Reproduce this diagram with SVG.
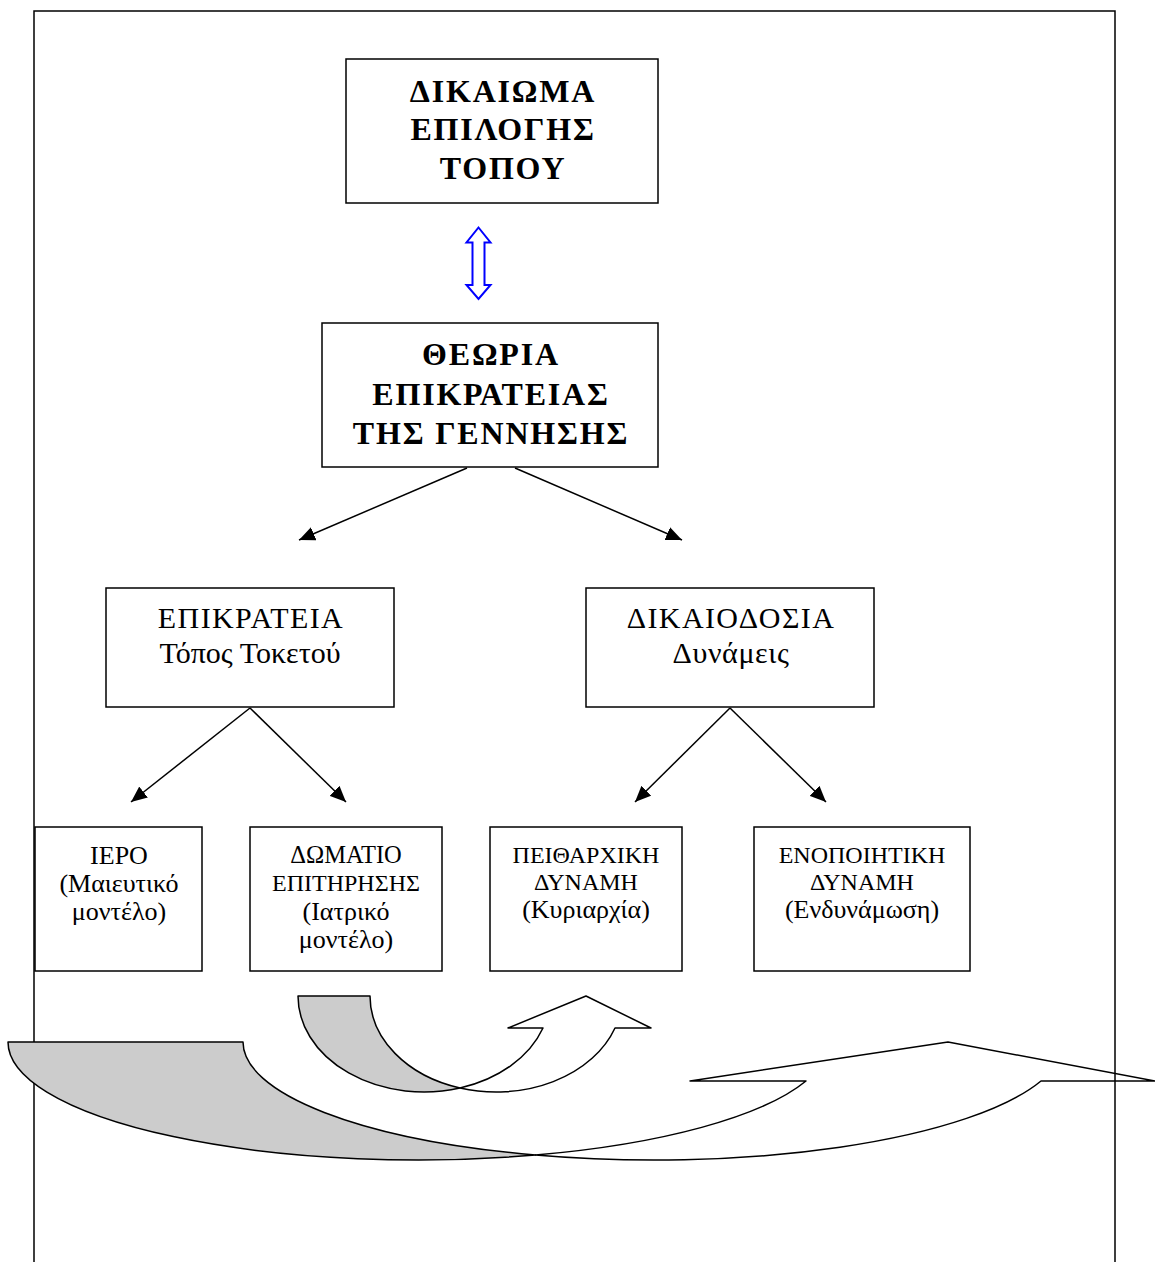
<svg xmlns="http://www.w3.org/2000/svg" width="1155" height="1262" viewBox="0 0 1155 1262">
<defs>
<style>
.box{fill:#fff;stroke:#000;stroke-width:1.5}
.t{font-family:"Liberation Serif","Times New Roman",serif;fill:#000;text-anchor:middle}
.b{font-weight:bold;font-size:32px;letter-spacing:1.8px}
.m{font-size:30px}
.mc{font-size:30px;letter-spacing:1.4px}
.ml{font-size:30px;letter-spacing:0.6px}
.s{font-size:24px}
.s2{font-size:26px}
.con{stroke:#000;stroke-width:1.5;fill:none;marker-end:url(#ah)}
.ribbon{stroke:#000;stroke-width:1.5;stroke-linejoin:round}
</style>
<marker id="ah" markerUnits="userSpaceOnUse" markerWidth="18" markerHeight="14" refX="16" refY="7" orient="auto">
<path d="M0,0 L16,7 L0,14 Z" fill="#000"/>
</marker>
</defs>
<rect width="1155" height="1262" fill="#fff"/>
<g id="frame">
<path d="M34,1262 L34,11 L1115,11 L1115,1262" fill="none" stroke="#000" stroke-width="1.5"/>
</g>
<g id="n-dikaioma">
<rect class="box" x="346" y="59" width="312" height="144"/>
<text class="t b" x="503" y="101.5">ΔΙΚΑΙΩΜΑ</text>
<text class="t b" x="503" y="140">ΕΠΙΛΟΓΗΣ</text>
<text class="t b" x="503" y="178.5">ΤΟΠΟΥ</text>
</g>
<g id="n-theoria">
<rect class="box" x="322" y="323" width="336" height="144"/>
<text class="t b" x="491" y="365">ΘΕΩΡΙΑ</text>
<text class="t b" x="491" y="404.5">ΕΠΙΚΡΑΤΕΙΑΣ</text>
<text class="t b" x="491" y="444">ΤΗΣ ΓΕΝΝΗΣΗΣ</text>
</g>
<g id="n-epikrateia">
<rect class="box" x="106" y="588" width="288" height="119"/>
<text class="t mc" x="251" y="628">ΕΠΙΚΡΑΤΕΙΑ</text>
<text class="t m" x="250" y="663">Τόπος Τοκετού</text>
</g>
<g id="n-dikaiodosia">
<rect class="box" x="586" y="588" width="288" height="119"/>
<text class="t mc" x="731" y="628">ΔΙΚΑΙΟΔΟΣΙΑ</text>
<text class="t ml" x="731" y="663">Δυνάμεις</text>
</g>
<g id="n-iero">
<rect class="box" x="35" y="827" width="167" height="144"/>
<text class="t s2" x="119" y="864">ΙΕΡΟ</text>
<text class="t s2" x="119" y="892">(Μαιευτικό</text>
<text class="t s2" x="119" y="920">μοντέλο)</text>
</g>
<g id="n-domatio">
<rect class="box" x="250" y="827" width="192" height="144"/>
<text class="t s" x="346" y="863" style="font-size:24.5px">ΔΩΜΑΤΙΟ</text>
<text class="t s" x="346" y="891">ΕΠΙΤΗΡΗΣΗΣ</text>
<text class="t s2" x="346" y="920">(Ιατρικό</text>
<text class="t s2" x="346" y="948">μοντέλο)</text>
</g>
<g id="n-peitharxiki">
<rect class="box" x="490" y="827" width="192" height="144"/>
<text class="t s" x="586" y="863">ΠΕΙΘΑΡΧΙΚΗ</text>
<text class="t s" x="586" y="890">ΔΥΝΑΜΗ</text>
<text class="t s2" x="586" y="918">(Κυριαρχία)</text>
</g>
<g id="n-enopoiitiki">
<rect class="box" x="754" y="827" width="216" height="144"/>
<text class="t s" x="862" y="863">ΕΝΟΠΟΙΗΤΙΚΗ</text>
<text class="t s" x="862" y="890">ΔΥΝΑΜΗ</text>
<text class="t s2" x="862" y="918">(Ενδυνάμωση)</text>
</g>
<g id="connectors">
<path d="M478.5,227.5 L490.5,242.5 L484.5,242.5 L484.5,285 L490.5,285 L478.5,299 L466.5,285 L472.5,285 L472.5,242.5 L466.5,242.5 Z" fill="#fff" stroke="#0000ff" stroke-width="2"/>
<line class="con" x1="467" y1="468" x2="299" y2="540"/>
<line class="con" x1="515" y1="468" x2="682" y2="540"/>
<line class="con" x1="250" y1="708" x2="131" y2="802"/>
<line class="con" x1="250" y1="708" x2="346" y2="802"/>
<line class="con" x1="730" y1="708" x2="635" y2="802"/>
<line class="con" x1="730" y1="708" x2="826" y2="802"/>
</g>
<g id="curved-arrow-small">
<path class="ribbon" fill="#cccccc" d="M298,996 L370,996 A126 96 0 0 0 460,1088 A126 96 0 0 1 298,996 Z"/>
<path class="ribbon" fill="none" d="M460,1088 A126 96 0 0 0 615,1028 L651,1028 L586,996 L508,1028 L543,1028 A126 96 0 0 1 460,1088 Z"/>
</g>
<g id="curved-arrow-large">
<path class="ribbon" fill="#cccccc" d="M8,1042 L243,1042 A410 118 0 0 0 535.5,1155 A410 118 0 0 1 8,1042 Z"/>
<path class="ribbon" fill="none" d="M535.5,1155 A410 118 0 0 0 1041,1081 L1155,1081 L948,1042 L690,1081 L806,1081 A410 118 0 0 1 535.5,1155 Z"/>
</g>
</svg>
